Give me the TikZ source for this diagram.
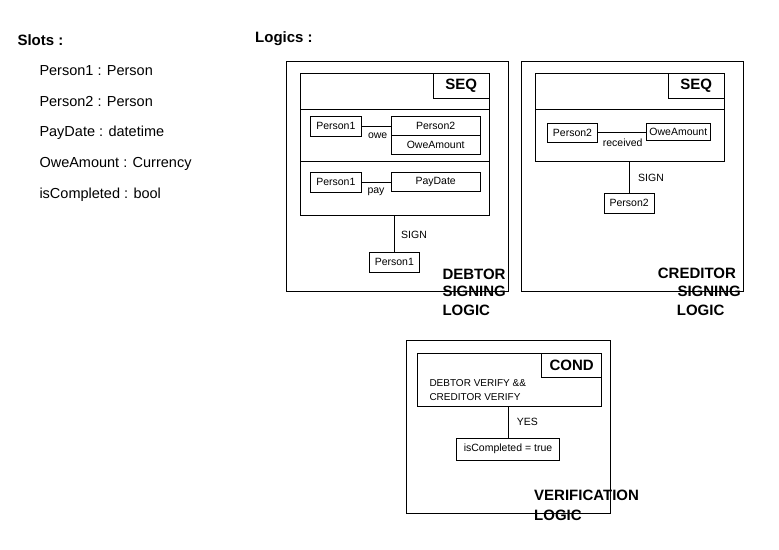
\documentclass[tikz,border=0pt]{standalone}
\usepackage{fontspec}
\setmainfont{Liberation Sans}
\begin{document}
\begin{tikzpicture}[x=1pt,y=-1pt,
  box/.style={draw, line width=0.9pt, inner sep=0pt, font=\fontsize{10.5}{12}\selectfont},
  frame/.style={draw, line width=0.9pt, inner sep=0pt},
  big/.style={inner sep=0pt, font=\fontsize{15}{18}\bfseries\selectfont},
  slot/.style={inner sep=0pt, anchor=west, font=\fontsize{14.5}{17}\selectfont},
  lbl/.style={inner sep=0pt, font=\fontsize{10.5}{12}\selectfont},
  line/.style={line width=0.9pt}]
\useasboundingbox (0,0) rectangle (779,549);
\fill[white] (0,0) rectangle (779,549);
% Slots
\node[big, anchor=west] (slots) at (17.3,40) {Slots :};
\node[slot] (sl1) at (39.3,71) {Person1 : Person};
\node[slot] (sl2) at (39.3,101.7) {Person2 : Person};
\node[slot] (sl3) at (39.3,132.7) {PayDate : datetime};
\node[slot] (sl4) at (39.3,164) {OweAmount : Currency};
\node[slot] (sl5) at (39.3,195) {isCompleted : bool};
\node[big, anchor=west] (logics) at (255,38.3) {Logics :};
% Debtor
\node[frame, minimum width=222pt, minimum height=230pt] (deb) at (397.7,176.7) {};
\node[frame, minimum width=188.6pt, minimum height=141.7pt] (seq1) at (395,144.15) {};
\node[frame, big, minimum width=56pt, minimum height=25pt] (seq1l) at (461.3,85.8) {SEQ};
\draw[line] (300.7,109) coordinate (d1a) -- (489.3,109) coordinate (d1b);
\draw[line] (300.7,161.7) coordinate (d2a) -- (489.3,161.7) coordinate (d2b);
\node[box, minimum width=50.3pt, minimum height=19.3pt] (p1a) at (335.85,126.35) {Person1};
\node[box, minimum width=89.3pt, minimum height=18.6pt] (p2a) at (435.65,126) {Person2};
\node[box, minimum width=89.3pt, minimum height=19pt] (oa) at (435.65,144.8) {OweAmount};
\draw[line] (p1a.east) -- (p1a.east -| p2a.west);
\node[lbl] (owe) at (377.7,136) {owe};
\node[box, minimum width=50.3pt, minimum height=20pt] (p1b) at (335.85,182.3) {Person1};
\node[box, minimum width=89.3pt, minimum height=18.7pt] (pd) at (435.65,181.65) {PayDate\hspace{19pt}};
\draw[line] (p1b.east) -- (p1b.east -| pd.west);
\node[lbl] (pay) at (376,191.7) {pay};
\node[box, minimum width=50pt, minimum height=20pt] (s1) at (394.3,262.3) {Person1};
\draw[line] (s1.north) -- (s1.north |- seq1.south);
\node[lbl] (sign1) at (414,235) {SIGN};
\node[big, anchor=west] (dt1) at (442.3,274) {DEBTOR};
\node[big, anchor=west] (dt2) at (442.3,291.7) {SIGNING};
\node[big, anchor=west] (dt3) at (442.3,310) {LOGIC};
% Creditor
\node[frame, minimum width=222pt, minimum height=230pt] (cred) at (632.7,176.7) {};
\node[frame, minimum width=188.6pt, minimum height=88.4pt] (seq2) at (630,117.5) {};
\node[frame, big, minimum width=56pt, minimum height=25pt] (seq2l) at (696.3,85.8) {SEQ};
\draw[line] (535.7,109) coordinate (d3a) -- (724.3,109) coordinate (d3b);
\node[box, minimum width=50.4pt, minimum height=19pt] (p2c) at (572.5,132.8) {Person2};
\node[box, minimum width=64.7pt, minimum height=17pt] (oac) at (678.35,131.8) {OweAmount};
\draw[line] (p2c.east) -- (p2c.east -| oac.west);
\node[lbl] (rec) at (622.7,142.3) {received};
\node[box, minimum width=49.7pt, minimum height=20pt] (s2) at (629.2,203.3) {Person2};
\draw[line] (s2.north) -- (s2.north |- seq2.south);
\node[lbl] (sign2) at (651,178.3) {SIGN};
\node[big, anchor=west] (ct1) at (657.7,273.3) {CREDITOR};
\node[big, anchor=west] (ct2) at (677.3,291.7) {SIGNING};
\node[big, anchor=west] (ct3) at (676.7,310) {LOGIC};
% Verification
\node[frame, minimum width=204pt, minimum height=173.3pt] (ver) at (508.7,426.7) {};
\node[frame, minimum width=184.4pt, minimum height=53.4pt] (cond) at (509.5,380) {};
\node[frame, big, minimum width=60pt, minimum height=24.4pt] (condl) at (571.7,365.5) {COND};
\node[lbl, anchor=west, font=\fontsize{10}{13.4}\selectfont, align=left] (ctext) at (429.3,390) {DEBTOR VERIFY \&\&\\CREDITOR VERIFY};
\node[box, minimum width=102.6pt, minimum height=21.7pt] (ic) at (508,449.2) {isCompleted = true};
\draw[line] (ic.north) -- (ic.north |- cond.south);
\node[lbl] (yes) at (527.3,421.7) {YES};
\node[big, anchor=west] (vt1) at (534,495.7) {VERIFICATION};
\node[big, anchor=west] (vt2) at (534,515) {LOGIC};
\end{tikzpicture}
\end{document}
